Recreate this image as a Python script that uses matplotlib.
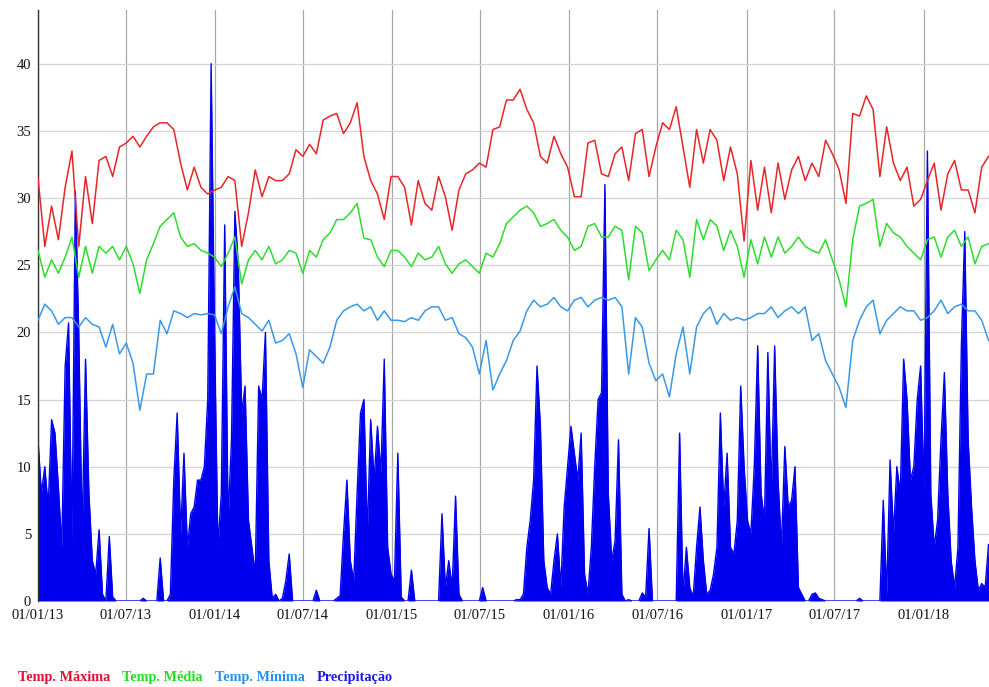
import numpy as np
import matplotlib

matplotlib.use("Agg")
import matplotlib.pyplot as plt
import matplotlib.dates as mdates

RED = "#e8262a"
GREEN = "#2edc2e"
LIGHT_BLUE = "#3a98e8"
BLUE = "#0000ee"

# temperatures sampled every 14 days from 01/01/13
temp_start = np.datetime64("2013-01-01")
temp_step = 14

temp_max = [
    31.5, 26.4, 29.4, 26.9, 30.8, 33.5, 26.4, 31.6, 28.1, 32.8,
    33.1, 31.6, 33.8, 34.1, 34.6, 33.8, 34.6, 35.3, 35.6, 35.6,
    35.1, 32.6, 30.6, 32.3, 30.8, 30.3, 30.6, 30.8, 31.6, 31.3,
    26.4, 28.9, 32.1, 30.1, 31.6, 31.3, 31.3, 31.8, 33.6, 33.1,
    34.0, 33.3, 35.8, 36.1, 36.3, 34.8, 35.6, 37.1,
    33.1, 31.3, 30.3, 28.4, 31.6, 31.6, 30.8, 28.0, 31.3, 29.6,
    29.1, 31.6, 30.1, 27.6, 30.6, 31.8, 32.1, 32.6, 32.3, 35.1,
    35.3, 37.3, 37.3, 38.1, 36.6, 35.6, 33.1, 32.6, 34.6, 33.3,
    32.3, 30.1, 30.1, 34.1, 34.3, 31.8, 31.6, 33.3, 33.8, 31.3,
    34.8, 35.1, 31.6, 33.8, 35.6, 35.1, 36.8,
    33.8, 30.8, 35.1, 32.6, 35.1, 34.3, 31.3, 33.8, 31.8, 26.8,
    32.8, 29.1, 32.3, 28.9, 32.6, 29.9, 32.1, 33.1, 31.3, 32.6,
    31.6, 34.3, 33.3, 32.1, 29.6, 36.3, 36.1, 37.6, 36.6, 31.6,
    35.3, 32.6, 31.3, 32.3, 29.4, 29.9, 31.3, 32.6, 29.1, 31.8,
    32.8, 30.6, 30.6, 28.9, 32.3, 33.1,
]
temp_mean = [
    26.1, 24.1, 25.4, 24.4, 25.6, 27.1, 24.1, 26.4, 24.4, 26.4,
    25.9, 26.4, 25.4, 26.4, 25.1, 22.9, 25.4, 26.6, 27.9, 28.4,
    28.9, 27.1, 26.4, 26.6, 26.1, 25.9, 25.6, 24.9, 25.9, 27.1,
    23.6, 25.4, 26.1, 25.4, 26.4, 25.1, 25.4, 26.1, 25.9, 24.4,
    26.1, 25.6, 26.9, 27.4, 28.4, 28.4, 28.9, 29.6,
    27.0, 26.9, 25.6, 24.9, 26.1, 26.1, 25.6, 24.9, 25.9, 25.4,
    25.6, 26.4, 25.1, 24.4, 25.1, 25.4, 24.9, 24.4, 25.9, 25.6,
    26.6, 28.1, 28.6, 29.1, 29.4, 28.9, 27.9, 28.1, 28.4, 27.6,
    27.1, 26.1, 26.4, 27.9, 28.1, 27.1, 27.1, 27.9, 27.6, 23.9,
    27.9, 27.4, 24.6, 25.4, 26.1, 25.4, 27.6,
    26.9, 24.1, 28.4, 26.9, 28.4, 27.9, 26.1, 27.6, 26.4, 24.1,
    26.9, 25.1, 27.1, 25.6, 27.1, 25.9, 26.4, 27.1, 26.4, 26.1,
    25.9, 26.9, 25.4, 23.9, 21.9, 26.9, 29.4, 29.6, 29.9, 26.4,
    28.1, 27.4, 27.1, 26.4, 25.9, 25.4, 26.9, 27.1, 25.6, 27.1,
    27.6, 26.4, 27.1, 25.1, 26.4, 26.6,
]
temp_min = [
    20.9, 22.1, 21.6, 20.6, 21.1, 21.1, 20.4, 21.1, 20.6, 20.4,
    18.9, 20.6, 18.4, 19.2, 17.7, 14.2, 16.9, 16.9, 20.9, 19.9,
    21.6, 21.4, 21.1, 21.4, 21.3, 21.4, 21.3, 19.9, 21.9, 23.4,
    21.4, 21.1, 20.6, 20.1, 20.9, 19.2, 19.4, 19.9, 18.4, 15.9,
    18.7, 18.2, 17.7, 18.9, 20.9, 21.6, 21.9, 22.1,
    21.6, 21.9, 20.9, 21.6, 20.9, 20.9, 20.8, 21.1, 20.9, 21.6,
    21.9, 21.9, 20.9, 21.1, 19.9, 19.6, 18.9, 16.9, 19.4, 15.7,
    16.9, 17.9, 19.4, 20.1, 21.6, 22.4, 21.9, 22.1, 22.6, 21.9,
    21.6, 22.4, 22.6, 21.9, 22.4, 22.6, 22.4, 22.6, 21.9, 16.9,
    21.1, 20.4, 17.7, 16.4, 16.9, 15.2, 18.4,
    20.4, 16.9, 20.4, 21.4, 21.9, 20.6, 21.4, 20.9, 21.1, 20.9,
    21.1, 21.4, 21.4, 21.9, 21.1, 21.6, 21.9, 21.4, 21.9, 19.4,
    19.9, 17.9, 16.9, 15.9, 14.4, 19.4, 20.9, 21.9, 22.4, 19.9,
    20.9, 21.4, 21.9, 21.6, 21.6, 20.9, 21.1, 21.6, 22.4, 21.4,
    21.9, 22.1, 21.6, 21.6, 20.9, 19.4,
]

# precipitation sampled every 7 days from 01/01/13
rain_step = 7
precip = [
    12.0, 8.0, 10.0, 7.0, 13.5, 12.5, 8.5, 4.0, 17.5, 20.7,
    4.5, 30.5, 20.0, 5.0, 18.0, 8.0, 3.0, 2.0, 5.3, 0.5,
    0, 4.8, 0.3, 0, 0, 0, 0, 0, 0, 0,
    0, 0.2, 0, 0, 0, 0, 3.2, 0, 0, 0.5,
    9.0, 14.0, 5.0, 11.0, 4.0, 6.5, 7.0, 9.0, 9.0, 10.0,
    15.0, 40.0, 20.0, 4.0, 8.0, 28.0, 6.0, 12.0, 29.0, 25.0,
    14.0, 16.0, 6.0, 4.0, 2.0, 16.0, 15.0, 20.0, 3.0, 0.2,
    0.5, 0, 0.2, 1.5, 3.5, 0, 0, 0, 0, 0,
    0, 0, 0.8, 0, 0, 0, 0, 0, 0.2, 0.4,
    5.0, 9.0, 3.0, 1.5, 8.0, 14.0, 15.0, 5.0, 13.5, 9.0,
    13.0, 9.5, 18.0, 4.0, 2.0, 1.5, 11.0, 0.3, 0, 0,
    2.3, 0, 0, 0, 0, 0, 0, 0, 0, 6.5,
    1.0, 3.0, 1.0, 7.8, 0.5, 0, 0, 0, 0, 0,
    0, 1.0, 0, 0, 0, 0, 0, 0, 0, 0,
    0, 0.1, 0.1, 0.5, 4.0, 6.0, 9.0, 17.5, 13.0, 3.0,
    1.0, 0.5, 3.0, 5.0, 1.0, 7.0, 10.0, 13.0, 11.0, 9.0,
    12.5, 2.0, 0.5, 4.0, 10.0, 15.0, 15.5, 31.0, 8.0, 3.0,
    4.5, 12.0, 0.5, 0, 0.1, 0, 0, 0, 0.6, 0.3,
    5.4, 0, 0, 0, 0, 0, 0, 0, 0, 12.5,
    0.5, 4.0, 1.0, 0.3, 4.0, 7.0, 3.0, 0.5, 0.8, 2.0,
    4.0, 14.0, 7.0, 11.0, 4.0, 3.5, 6.0, 16.0, 10.0, 6.0,
    5.0, 10.0, 19.0, 8.0, 6.0, 18.5, 8.0, 19.0, 9.0, 4.0,
    11.5, 7.0, 7.5, 10.0, 1.0, 0.5, 0, 0, 0.5, 0.6,
    0.2, 0.1, 0, 0, 0, 0, 0, 0, 0, 0,
    0, 0, 0.2, 0, 0, 0, 0, 0, 0, 7.5,
    0.5, 10.5, 5.0, 10.0, 8.0, 18.0, 15.0, 9.0, 10.0, 15.0,
    17.5, 8.0, 33.5, 8.0, 4.0, 6.0, 12.0, 17.0, 8.0, 3.0,
    1.0, 4.0, 19.0, 27.5, 12.0, 7.0, 3.0, 0.8, 1.3, 1.0, 4.2,
]

legend_items = [
    ("Temp. Máxima", "#e3102e"),
    ("Temp. Média", "#22dd22"),
    ("Temp. Mínima", "#2a90ee"),
    ("Precipitação", "#1a1ae6"),
]

temp_dates = temp_start + np.arange(len(temp_max)) * np.timedelta64(temp_step, "D")
rain_dates = temp_start + np.arange(len(precip)) * np.timedelta64(rain_step, "D")

plt.rcParams["font.family"] = ["Liberation Serif", "DejaVu Serif"]

fig = plt.figure(figsize=(9.89, 6.87), dpi=100)
ax = fig.add_axes([38 / 989, 86 / 687, 951 / 989, 591 / 687])

# precipitation as a filled spiky area with its outline
ax.fill_between(rain_dates, precip, 0, color=BLUE, lw=0, zorder=2)
ax.plot(rain_dates, precip, color=BLUE, lw=1.0, zorder=2)
ax.plot(temp_dates, temp_max, color=RED, lw=1.1, zorder=3)
ax.plot(temp_dates, temp_mean, color=GREEN, lw=1.1, zorder=3)
ax.plot(temp_dates, temp_min, color=LIGHT_BLUE, lw=1.1, zorder=3)

ax.set_xlim(np.datetime64("2013-01-01"), np.datetime64("2018-05-16"))
ax.set_ylim(0, 44)
ax.set_yticks(range(0, 41, 5))
ax.xaxis.set_major_locator(mdates.MonthLocator(bymonth=[1, 7]))
ax.xaxis.set_major_formatter(mdates.DateFormatter("%d/%m/%y"))

ax.grid(axis="y", color="#d4d4d4", lw=0.9, zorder=0)
ax.grid(axis="x", color="#a8a8a8", lw=0.9, zorder=0)
ax.set_axisbelow(True)
for side in ("top", "right", "bottom"):
    ax.spines[side].set_visible(False)
ax.spines["left"].set_color("#333333")
ax.spines["left"].set_linewidth(1.0)
ax.tick_params(length=0, labelsize=10.5, colors="#111111")
ax.tick_params(axis="x", pad=6)
ax.tick_params(axis="y", pad=5)

x = 18
for label, color in legend_items:
    t = fig.text(x / 989, 1 - 681 / 687, label, color=color, fontsize=10.3,
                 fontweight="bold", va="baseline", ha="left")
    fig.canvas.draw()
    x += t.get_window_extent().width + 12

fig.savefig("out.png", dpi=100, facecolor="white")
